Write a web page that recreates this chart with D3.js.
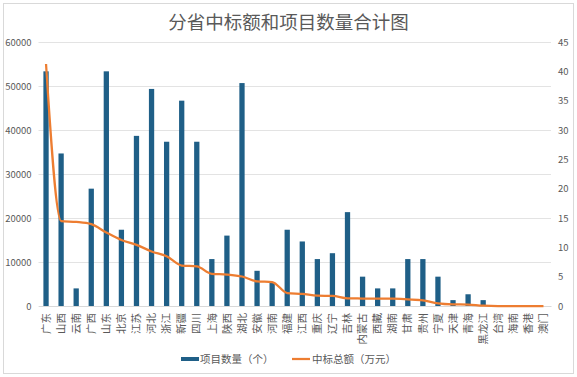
<!DOCTYPE html>
<html>
<head>
<meta charset="utf-8">
<script src="https://cdn.jsdelivr.net/npm/d3@7"></script>
<style>
  body { margin: 0; background: #fff; }
  text { font-family: "Noto Sans CJK SC", "Noto Sans", sans-serif; }
</style>
</head>
<body>
<div id="chart"></div>
<script>
// 省份
const provinces = ['广东', '山西', '云南', '广西', '山东', '北京', '江苏', '河北', '浙江', '新疆', '四川', '上海',
  '陕西', '湖北', '安徽', '河南', '福建', '江西', '重庆', '辽宁', '吉林', '内蒙古', '西藏', '湖南', '甘肃', '贵州',
  '宁夏', '天津', '青海', '黑龙江', '台湾', '海南', '香港', '澳门'];
// 项目数量（个）— right axis
const projectCounts = [40, 26, 3, 20, 40, 13, 29, 37, 28, 35, 28, 8, 12, 38, 6, 4, 13, 11, 8, 9, 16, 5, 3, 3, 8, 8,
  5, 1, 2, 1, 0, 0, 0, 0];
// 中标总额（万元）— left axis
const bidAmounts = [55000, 19300, 19100, 18600, 16700, 15000, 13900, 12400, 11300, 9200, 9000, 7300, 7150, 6700,
  5600, 5450, 2950, 2750, 2350, 2300, 1750, 1700, 1650, 1650, 1500, 1280, 600, 370, 320, 60, 0, 0, 0, 0];
const leftTicks = [0, 10000, 20000, 30000, 40000, 50000, 60000];
const rightTicks = [0, 5, 10, 15, 20, 25, 30, 35, 40, 45];

const W = 577, H = 377;
const margin = { top: 42, right: 26, bottom: 71, left: 38.5 };
const width = W - margin.left - margin.right;
const height = H - margin.top - margin.bottom;

const svg = d3.select('#chart').append('svg')
  .attr('width', W).attr('height', H);

// Chart border
svg.append('rect')
  .attr('x', 3.5).attr('y', 3.5).attr('width', W - 7).attr('height', H - 7)
  .attr('fill', '#fff').attr('stroke', '#d9d9d9');

svg.append('text')
  .attr('x', W / 2).attr('y', 29).attr('text-anchor', 'middle')
  .attr('font-size', '18.5px').attr('fill', '#595959')
  .text('分省中标额和项目数量合计图');

const g = svg.append('g').attr('transform', `translate(${margin.left},${margin.top})`);

const x = d3.scaleBand().domain(provinces).range([0, width]).paddingInner(0.65).paddingOuter(0.325);
const yL = d3.scaleLinear().domain([0, 60000]).range([height, 0]);
const yR = d3.scaleLinear().domain([0, 45]).range([height, 0]);

// Grid
g.append('g')
  .call(d3.axisLeft(yL).tickValues(leftTicks).tickSize(-width).tickFormat(''))
  .call(a => a.select('.domain').remove())
  .selectAll('line').attr('stroke', '#e3e3e3');

// Left axis
g.append('g')
  .call(d3.axisLeft(yL).tickValues(leftTicks).tickSize(0).tickPadding(7).tickFormat(d3.format('d')))
  .call(a => a.select('.domain').remove())
  .selectAll('text').attr('font-size', '9.5px').attr('fill', '#595959')
  .attr('font-family', 'Roboto, "Noto Sans", sans-serif');

// Right axis
g.append('g').attr('transform', `translate(${width},0)`)
  .call(d3.axisRight(yR).tickValues(rightTicks).tickSize(0).tickPadding(7))
  .call(a => a.select('.domain').remove())
  .selectAll('text').attr('font-size', '9.5px').attr('fill', '#595959')
  .attr('font-family', 'Roboto, "Noto Sans", sans-serif');

// X axis with rotated labels
g.append('g').attr('transform', `translate(0,${height})`)
  .call(d3.axisBottom(x).tickSize(0).tickPadding(0))
  .call(a => a.select('.domain').attr('stroke', '#d9d9d9'))
  .selectAll('text')
  .attr('font-size', '10.5px').attr('fill', '#595959')
  .attr('transform', 'translate(0,7) rotate(-90)')
  .attr('text-anchor', 'end').attr('dy', '0.35em').attr('dx', 0).attr('y', 0);

// Bars
g.selectAll('.bar').data(provinces).join('rect')
  .attr('class', 'bar')
  .attr('x', d => x(d)).attr('width', x.bandwidth())
  .attr('y', (d, i) => yR(projectCounts[i]))
  .attr('height', (d, i) => height - yR(projectCounts[i]))
  .attr('fill', '#1f5f87');

// Line
const line = d3.line()
  .x((d, i) => x(provinces[i]) + x.bandwidth() / 2)
  .y(d => yL(d))
  .curve(d3.curveMonotoneX);
g.append('path').datum(bidAmounts)
  .attr('d', line).attr('fill', 'none')
  .attr('stroke', '#ed7d31').attr('stroke-width', 2.25)
  .attr('stroke-linejoin', 'round');

// Legend
const legend = svg.append('g').attr('transform', 'translate(0,359)');
legend.append('rect').attr('x', 181).attr('y', -2).attr('width', 18).attr('height', 4).attr('fill', '#1f5f87');
legend.append('text').attr('x', 200).attr('y', 4).attr('font-size', '10.5px').attr('fill', '#595959')
  .text('项目数量（个）');
legend.append('line').attr('x1', 292).attr('x2', 310).attr('y1', 0).attr('y2', 0)
  .attr('stroke', '#ed7d31').attr('stroke-width', 2.25);
legend.append('text').attr('x', 312).attr('y', 4).attr('font-size', '10.5px').attr('fill', '#595959')
  .text('中标总额（万元）');
</script>
</body>
</html>
